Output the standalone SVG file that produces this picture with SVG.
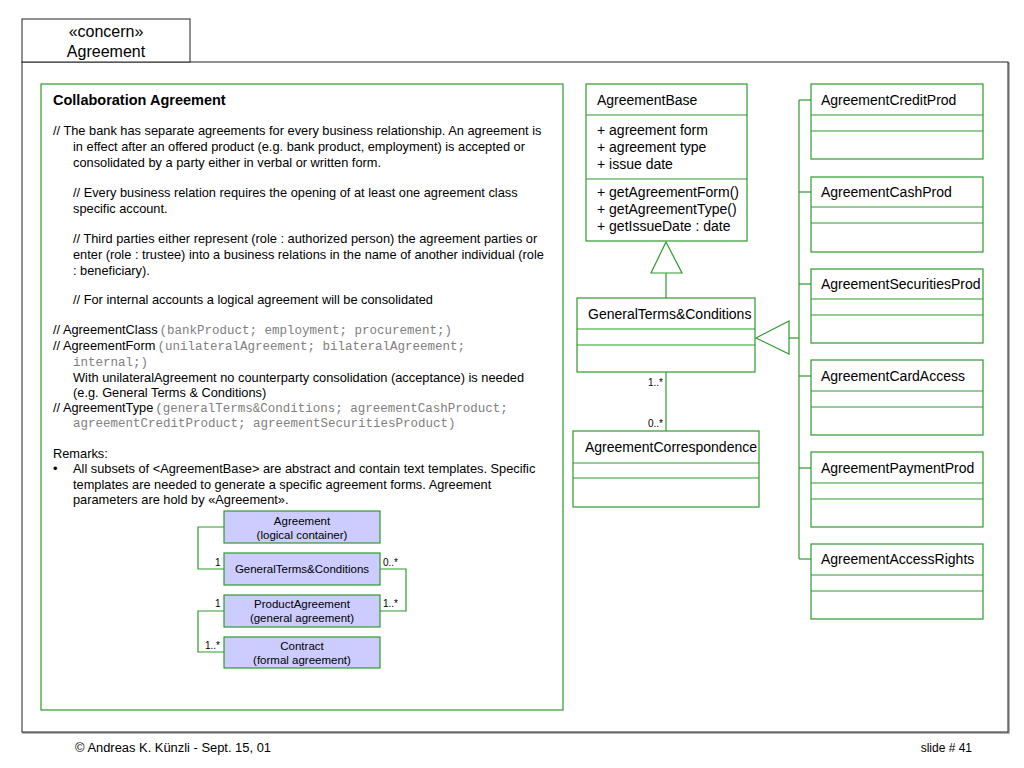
<svg xmlns="http://www.w3.org/2000/svg" width="1024" height="768" viewBox="0 0 1024 768">
<style>
text{font-family:"Liberation Sans",Arial,sans-serif;fill:#000}
.t{font-size:12.8px}
.m{font-family:"Liberation Mono","Courier New",monospace;font-size:12.5px;fill:#808080}
.c{font-size:14px}
.s{font-size:11.5px;text-anchor:middle}
.k{font-size:10px}
.g{fill:#fff;stroke:#2e9a2e;stroke-width:1.2}
.l{fill:#ccccff;stroke:#2e9a2e;stroke-width:1.2}
.ln{fill:none;stroke:#2e9a2e;stroke-width:1.2}
</style>
<rect width="1024" height="768" fill="#fff"/>
<g id="frame">
<rect x="23" y="63" width="986" height="670" fill="none" stroke="#999" stroke-width="1.5"/>
<rect x="22" y="62" width="986" height="670" fill="#fff" stroke="#222" stroke-width="1"/>
<rect x="22" y="19" width="168" height="43" fill="#fff" stroke="#222" stroke-width="1"/>
<text x="106" y="37" font-size="16" text-anchor="middle">«concern»</text>
<text x="106" y="57" font-size="16" text-anchor="middle">Agreement</text>
</g>
<g id="collaboration">
<rect class="g" x="41" y="84" width="522" height="626"/>
<text x="53" y="105" font-size="14.5" font-weight="bold">Collaboration Agreement</text>
<text class="t" x="53" y="135">// The bank has separate agreements for every business relationship. An agreement is</text>
<text class="t" x="73" y="151">in effect after an offered product (e.g. bank product, employment) is accepted or</text>
<text class="t" x="73" y="167">consolidated by a party either in verbal or written form.</text>
<text class="t" x="73" y="197">// Every business relation requires the opening of at least one agreement class</text>
<text class="t" x="73" y="213">specific account.</text>
<text class="t" x="73" y="243">// Third parties either represent (role : authorized person) the agreement parties or</text>
<text class="t" x="73" y="259">enter (role :  trustee) into a business relations in the name of another individual (role</text>
<text class="t" x="73" y="275">: beneficiary).</text>
<text class="t" x="73" y="304">// For internal accounts a logical agreement will be consolidated</text>
<text class="t" x="53" y="334">// AgreementClass<tspan class="m" dx="2">(bankProduct; employment; procurement;)</tspan></text>
<text class="t" x="53" y="350">// AgreementForm<tspan class="m" dx="2">(unilateralAgreement; bilateralAgreement;</tspan></text>
<text class="m" x="73" y="366">internal;)</text>
<text class="t" x="73" y="382">With unilateralAgreement no counterparty consolidation (acceptance) is needed</text>
<text class="t" x="73" y="397">(e.g. General Terms &amp; Conditions)</text>
<text class="t" x="53" y="412">// AgreementType<tspan class="m" dx="2">(generalTerms&amp;Conditions; agreementCashProduct;</tspan></text>
<text class="m" x="73" y="427">agreementCreditProduct; agreementSecuritiesProduct)</text>
<text class="t" x="53" y="458">Remarks:</text>
<text class="t" x="53" y="473">•</text>
<text class="t" x="73" y="473">All subsets of &lt;AgreementBase&gt; are abstract and contain text templates. Specific</text>
<text class="t" x="73" y="489">templates are needed to generate a specific agreement forms. Agreement</text>
<text class="t" x="73" y="504">parameters are hold by «Agreement».</text>
</g>
<g id="mini-connectors">
<polyline class="ln" points="224,527 198,527 198,569 224,569"/>
<polyline class="ln" points="224,611 198,611 198,652 224,652"/>
<polyline class="ln" points="380,569 406,569 406,611 380,611"/>
<text class="k" x="215" y="566">1</text>
<text class="k" x="215" y="607">1</text>
<text class="k" x="205" y="649">1..*</text>
<text class="k" x="383" y="566">0..*</text>
<text class="k" x="383" y="607">1..*</text>
</g>
<g id="mini-agreement">
<rect class="l" x="224" y="511" width="156" height="32"/>
<text class="s" x="302" y="525">Agreement</text>
<text class="s" x="302" y="539">(logical container)</text>
</g>
<g id="mini-gtc">
<rect class="l" x="224" y="553" width="156" height="32"/>
<text class="s" x="302" y="573">GeneralTerms&amp;Conditions</text>
</g>
<g id="mini-product">
<rect class="l" x="224" y="595" width="156" height="32"/>
<text class="s" x="302" y="608">ProductAgreement</text>
<text class="s" x="302" y="622">(general agreement)</text>
</g>
<g id="mini-contract">
<rect class="l" x="224" y="637" width="156" height="31"/>
<text class="s" x="302" y="650">Contract</text>
<text class="s" x="302" y="664">(formal agreement)</text>
</g>
<g id="connectors">
<polygon class="g" points="666,242 651,273 682,273"/>
<line class="ln" x1="666" y1="273" x2="666" y2="298"/>
<polygon class="g" points="756,338 789,321 789,354"/>
<line class="ln" x1="789" y1="338" x2="799" y2="338"/>
<line class="ln" x1="799" y1="100" x2="799" y2="559"/>
<line class="ln" x1="799" y1="100" x2="811" y2="100"/>
<line class="ln" x1="799" y1="192" x2="811" y2="192"/>
<line class="ln" x1="799" y1="284" x2="811" y2="284"/>
<line class="ln" x1="799" y1="376" x2="811" y2="376"/>
<line class="ln" x1="799" y1="468" x2="811" y2="468"/>
<line class="ln" x1="799" y1="559" x2="811" y2="559"/>
<line class="ln" x1="666" y1="372" x2="666" y2="431"/>
<text class="k" x="663" y="386" text-anchor="end">1..*</text>
<text class="k" x="663" y="427" text-anchor="end">0..*</text>
</g>
<g id="AgreementBase">
<rect class="g" x="586" y="84" width="161" height="157"/>
<line class="ln" x1="586" y1="115" x2="747" y2="115"/>
<line class="ln" x1="586" y1="179" x2="747" y2="179"/>
<text class="c" x="597" y="105">AgreementBase</text>
<text class="c" x="597" y="135">+ agreement form</text>
<text class="c" x="597" y="152">+ agreement type</text>
<text class="c" x="597" y="169">+ issue date</text>
<text class="c" x="597" y="197">+ getAgreementForm()</text>
<text class="c" x="597" y="214">+ getAgreementType()</text>
<text class="c" x="597" y="231">+ getIssueDate : date</text>
</g>
<g id="GeneralTermsConditions">
<rect class="g" x="577" y="298" width="178" height="74"/>
<line class="ln" x1="577" y1="329" x2="755" y2="329"/>
<line class="ln" x1="577" y1="345" x2="755" y2="345"/>
<text class="c" x="588" y="319">GeneralTerms&amp;Conditions</text>
</g>
<g id="AgreementCorrespondence">
<rect class="g" x="573" y="431" width="186" height="76"/>
<line class="ln" x1="573" y1="463" x2="759" y2="463"/>
<line class="ln" x1="573" y1="478" x2="759" y2="478"/>
<text class="c" x="585" y="452">AgreementCorrespondence</text>
</g>
<g id="AgreementCreditProd">
<rect class="g" x="811" y="84" width="172" height="75"/>
<line class="ln" x1="811" y1="115" x2="983" y2="115"/>
<line class="ln" x1="811" y1="131" x2="983" y2="131"/>
<text class="c" x="821" y="105">AgreementCreditProd</text>
</g>
<g id="AgreementCashProd">
<rect class="g" x="811" y="177" width="172" height="75"/>
<line class="ln" x1="811" y1="207" x2="983" y2="207"/>
<line class="ln" x1="811" y1="223" x2="983" y2="223"/>
<text class="c" x="821" y="197">AgreementCashProd</text>
</g>
<g id="AgreementSecuritiesProd">
<rect class="g" x="811" y="269" width="172" height="74"/>
<line class="ln" x1="811" y1="299" x2="983" y2="299"/>
<line class="ln" x1="811" y1="315" x2="983" y2="315"/>
<text class="c" x="821" y="289">AgreementSecuritiesProd</text>
</g>
<g id="AgreementCardAccess">
<rect class="g" x="811" y="360" width="172" height="75"/>
<line class="ln" x1="811" y1="391" x2="983" y2="391"/>
<line class="ln" x1="811" y1="407" x2="983" y2="407"/>
<text class="c" x="821" y="381">AgreementCardAccess</text>
</g>
<g id="AgreementPaymentProd">
<rect class="g" x="811" y="452" width="172" height="75"/>
<line class="ln" x1="811" y1="483" x2="983" y2="483"/>
<line class="ln" x1="811" y1="499" x2="983" y2="499"/>
<text class="c" x="821" y="473">AgreementPaymentProd</text>
</g>
<g id="AgreementAccessRights">
<rect class="g" x="811" y="544" width="172" height="75"/>
<line class="ln" x1="811" y1="575" x2="983" y2="575"/>
<line class="ln" x1="811" y1="591" x2="983" y2="591"/>
<text class="c" x="821" y="564">AgreementAccessRights</text>
</g>
<g id="footer">
<text x="75" y="752" font-size="12" textLength="196" lengthAdjust="spacingAndGlyphs">© Andreas K. Künzli - Sept. 15, 01</text>
<text x="972" y="752" font-size="12" text-anchor="end">slide # 41</text>
</g>
</svg>
